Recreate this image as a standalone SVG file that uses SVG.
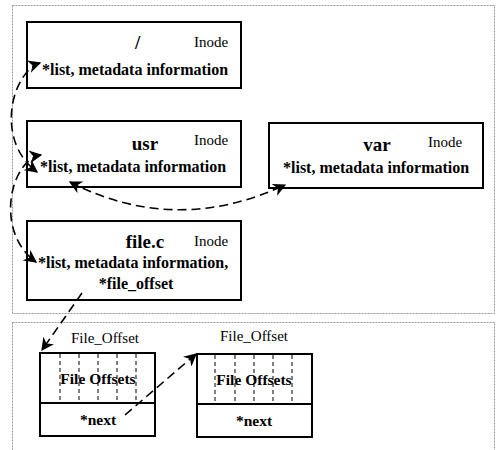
<svg xmlns="http://www.w3.org/2000/svg" width="496" height="450" viewBox="0 0 496 450">
<defs>
<marker id="ah2" viewBox="0 0 10 10" refX="9" refY="5" markerWidth="13" markerHeight="13" markerUnits="userSpaceOnUse" orient="auto-start-reverse">
<path d="M0,0 L10,5 L0,10 L3,5 Z" fill="#000"/>
</marker>
</defs>
<style>
.frame{fill:none;stroke:#999;stroke-width:1;stroke-dasharray:2 1}
.box{fill:#fff;stroke:#000;stroke-width:2}
text{font-family:'Liberation Serif','DejaVu Serif',serif;fill:#000}
.inode{font-size:15px}
.title{font-size:19px;font-weight:bold}
.body{font-size:16px;font-weight:bold}
.cellt{font-size:15.5px;font-weight:bold}
.lbl{font-size:15px}
.cell{stroke:#000;stroke-width:1;stroke-dasharray:4 3}
.conn{fill:none;stroke:#000;stroke-width:1.6;stroke-dasharray:9 5}
</style>
<rect width="496" height="450" fill="#fff"/>
<rect class="frame" x="12.5" y="5.5" width="482" height="308"/>
<rect class="frame" x="12.5" y="322.5" width="482" height="140"/>

<g id="node-root">
<rect class="box" x="27" y="22" width="214" height="66"/>
<text class="title" x="135" y="49" font-weight="normal">/</text>
<text class="inode" x="194" y="47">Inode</text>
<text class="body" x="42" y="75">*list, metadata information</text>
</g>

<g id="node-usr">
<rect class="box" x="27" y="121" width="214" height="66"/>
<text class="title" x="145" y="150" text-anchor="middle">usr</text>
<text class="inode" x="194" y="145">Inode</text>
<text class="body" x="40" y="172">*list, metadata information</text>
</g>

<g id="node-var">
<rect class="box" x="269" y="123" width="214" height="65"/>
<text class="title" x="377" y="151" text-anchor="middle">var</text>
<text class="inode" x="428" y="147">Inode</text>
<text class="body" x="283" y="173">*list, metadata information</text>
</g>

<g id="node-filec">
<rect class="box" x="27" y="221" width="214" height="79"/>
<text class="title" x="145" y="248" text-anchor="middle">file.c</text>
<text class="inode" x="194" y="246">Inode</text>
<text class="body" x="38" y="268">*list, metadata information,</text>
<text class="body" x="136" y="289" text-anchor="middle">*file_offset</text>
</g>

<g id="node-offset1">
<text class="lbl" x="105" y="343" text-anchor="middle">File_Offset</text>
<rect class="box" x="40" y="353" width="115" height="83"/>
<line class="cell" x1="60" y1="354" x2="60" y2="403"/>
<line class="cell" x1="79" y1="354" x2="79" y2="403"/>
<line class="cell" x1="98" y1="354" x2="98" y2="403"/>
<line class="cell" x1="117" y1="354" x2="117" y2="403"/>
<line class="cell" x1="136" y1="354" x2="136" y2="403"/>
<line x1="40" y1="403" x2="155" y2="403" stroke="#000" stroke-width="2"/>
<text class="cellt" x="98" y="384" text-anchor="middle">File Offsets</text>
<text class="cellt" x="98" y="425" text-anchor="middle">*next</text>
</g>

<g id="node-offset2">
<text class="lbl" x="254" y="341" text-anchor="middle">File_Offset</text>
<rect class="box" x="197" y="354" width="115" height="83"/>
<line class="cell" x1="215" y1="355" x2="215" y2="404"/>
<line class="cell" x1="235" y1="355" x2="235" y2="404"/>
<line class="cell" x1="254" y1="355" x2="254" y2="404"/>
<line class="cell" x1="273" y1="355" x2="273" y2="404"/>
<line class="cell" x1="292" y1="355" x2="292" y2="404"/>
<line x1="197" y1="404" x2="312" y2="404" stroke="#000" stroke-width="2"/>
<text class="cellt" x="254" y="385" text-anchor="middle">File Offsets</text>
<text class="cellt" x="254" y="426" text-anchor="middle">*next</text>
</g>

<g id="connectors">
<path class="conn" d="M40,63 C12,72 -6,140 37,172" marker-start="url(#ah2)" marker-end="url(#ah2)"/>
<path class="conn" d="M41,155 C10,160 -6,232 36,262" marker-start="url(#ah2)" marker-end="url(#ah2)"/>
<path class="conn" d="M70,182 Q175,236 285,185" marker-start="url(#ah2)" marker-end="url(#ah2)"/>
<path class="conn" d="M82,293 L42,350" marker-end="url(#ah2)"/>
<path class="conn" d="M125,415 L196,354" marker-end="url(#ah2)"/>
</g>
</svg>
